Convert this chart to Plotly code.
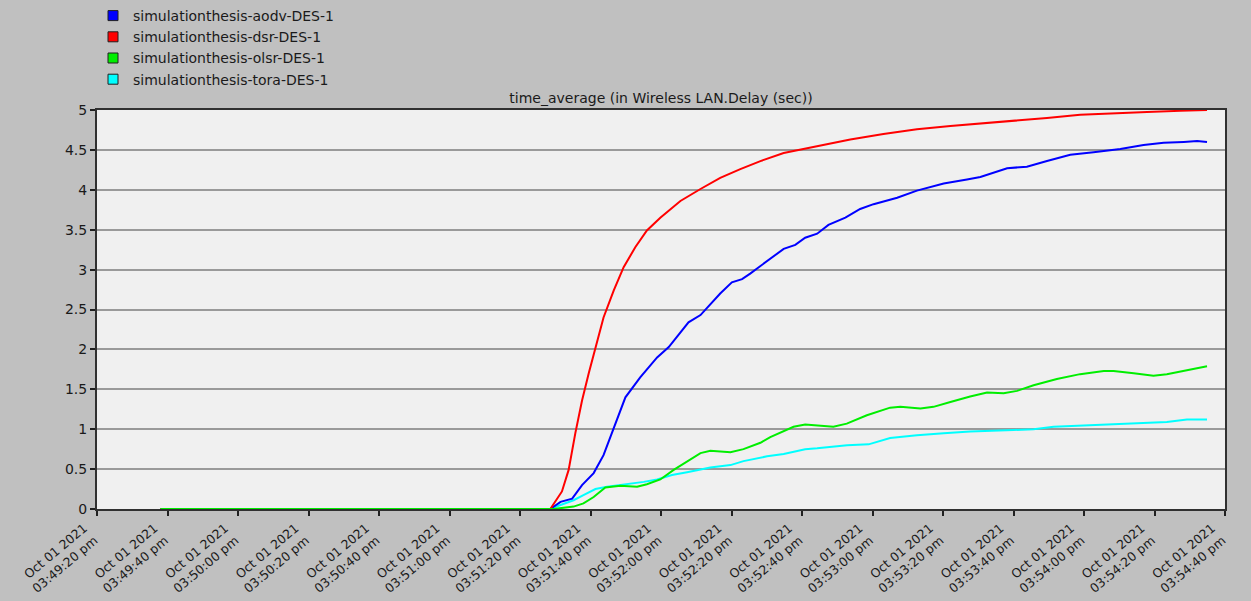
import pandas as pd
import plotly.graph_objects as go

# Elapsed seconds after 03:49:20 pm and the time-averaged delay (sec) of each run
aodv_t = [18, 128.6, 131.5, 134.8, 137.6, 140.9, 143.7, 146.6, 149.9, 154.1,
          158.9, 162.2, 167.8, 171.2, 174.0, 176.8, 180.1, 183.0, 185.3, 190.1,
          194.8, 198.1, 200.9, 204.3, 207.5, 212.3, 216.5, 220.3, 227.0, 232.6,
          240.2, 246.8, 250.6, 258.2, 263.8, 269.5, 276.1, 282.7, 290.3, 296.9,
          302.6, 308.3, 312.1, 314.9]
aodv_v = [0, 0, 0.09, 0.13, 0.30, 0.45, 0.675, 1.01, 1.40, 1.65,
          1.90, 2.03, 2.34, 2.43, 2.57, 2.70, 2.84, 2.88, 2.95, 3.11,
          3.26, 3.31, 3.40, 3.45, 3.56, 3.65, 3.76, 3.82, 3.90, 3.99,
          4.08, 4.13, 4.16, 4.27, 4.29, 4.36, 4.44, 4.47, 4.51, 4.56,
          4.59, 4.60, 4.61, 4.60]

dsr_t = [18, 128.6, 131.9, 133.8, 135.7, 137.6, 139.5, 141.4, 143.7, 146.6,
         149.4, 152.7, 156.0, 159.8, 165.5, 171.2, 176.8, 182.5, 188.2, 194.8,
         204.3, 213.7, 223.1, 232.6, 242.1, 250.6, 259.9, 269.5, 278.9, 288.3,
         297.9, 307.3, 314.9]
dsr_v = [0, 0, 0.22, 0.49, 0.95, 1.36, 1.70, 2.03, 2.40, 2.74,
         3.03, 3.28, 3.49, 3.65, 3.86, 4.01, 4.15, 4.26, 4.36, 4.46,
         4.55, 4.63, 4.70, 4.76, 4.80, 4.83, 4.86, 4.90, 4.94, 4.96,
         4.975, 4.99, 5.0]

olsr_t = [18, 129.5, 135.2, 138.0, 140.9, 144.2, 148.5, 153.2, 156.0, 159.8,
          163.6, 167.4, 171.2, 174.0, 179.7, 183.4, 188.2, 191.0, 197.6, 200.9,
          208.9, 212.7, 218.4, 225.0, 227.9, 233.6, 237.3, 242.1, 247.7, 252.5,
          257.2, 261.0, 265.7, 272.3, 278.9, 285.6, 288.4, 294.1, 299.7, 303.5,
          309.2, 314.9]
olsr_v = [0, 0, 0.03, 0.07, 0.15, 0.27, 0.29, 0.28, 0.31, 0.37,
          0.49, 0.59, 0.70, 0.73, 0.71, 0.75, 0.83, 0.90, 1.03, 1.06,
          1.03, 1.07, 1.175, 1.27, 1.28, 1.26, 1.28, 1.34, 1.41, 1.46,
          1.45, 1.48, 1.55, 1.63, 1.69, 1.73, 1.73, 1.70, 1.67, 1.69,
          1.74, 1.79]

tora_t = [18, 128.6, 131.5, 135.2, 138.0, 141.4, 144.7, 150.4, 155.1, 158.9,
          163.1, 167.4, 174.0, 179.7, 183.4, 190.1, 194.8, 200.9, 204.3, 212.8,
          218.9, 225.0, 232.6, 240.2, 247.7, 260.0, 265.7, 271.4, 281.8, 293.1,
          298.8, 303.5, 309.2, 314.9]
tora_v = [0, 0, 0.05, 0.11, 0.175, 0.25, 0.28, 0.31, 0.34, 0.37,
          0.425, 0.46, 0.52, 0.55, 0.60, 0.66, 0.69, 0.75, 0.76, 0.80,
          0.81, 0.89, 0.925, 0.95, 0.97, 0.99, 1.00, 1.03, 1.05, 1.07,
          1.09, 1.09, 1.12, 1.12]

series_names = ["simulationthesis-aodv-DES-1", "simulationthesis-dsr-DES-1",
                "simulationthesis-olsr-DES-1", "simulationthesis-tora-DES-1"]
series_colors = ["#0000ff", "#ff0000", "#00ee00", "#00ffff"]

start = pd.Timestamp("2021-10-01 15:49:20")
end = pd.Timestamp("2021-10-01 15:54:40")
tick_times = pd.date_range(start, end, freq="20s")
tick_labels = [t.strftime("Oct %d %Y<br>%I:%M:%S ") + t.strftime("%p").lower() for t in tick_times]
y_ticks = [0, 0.5, 1, 1.5, 2, 2.5, 3, 3.5, 4, 4.5, 5]


def to_time(secs):
    return start + pd.to_timedelta(secs, unit="s")


series = {
    "aodv": (aodv_t, aodv_v),
    "dsr": (dsr_t, dsr_v),
    "olsr": (olsr_t, olsr_v),
    "tora": (tora_t, tora_v),
}
keys = ["aodv", "dsr", "olsr", "tora"]

fig = go.Figure()

# Lines: olsr drawn last so it sits on top along the zero baseline
for k in ["tora", "aodv", "dsr", "olsr"]:
    i = keys.index(k)
    t, v = series[k]
    fig.add_trace(go.Scatter(
        x=to_time(t), y=v, mode="lines", name=series_names[i],
        line=dict(color=series_colors[i], width=2), showlegend=False,
    ))

# Square swatches for the legend, in run order
for i, k in enumerate(keys):
    fig.add_trace(go.Scatter(
        x=[None], y=[None], mode="markers", name=series_names[i],
        marker=dict(symbol="square", size=10, color=series_colors[i],
                    line=dict(color="#202020", width=1)),
    ))

font_family = "DejaVu Sans"
fig.update_layout(
    width=1251, height=601,
    paper_bgcolor="#c0c0c0", plot_bgcolor="#f0f0f0",
    margin=dict(l=97, r=26, t=110, b=92, autoexpand=False),
    font=dict(family=font_family, size=14, color="#1a1a1a"),
    title=dict(text="time_average (in Wireless LAN.Delay (sec))",
               x=0.5, xref="paper", xanchor="center",
               y=1 - 98 / 601, yref="container", yanchor="middle",
               font=dict(family=font_family, size=14, color="#1a1a1a")),
    legend=dict(x=93 / 1251, xref="container", xanchor="left",
                y=1 + 2 / 601, yref="container", yanchor="top",
                bgcolor="rgba(0,0,0,0)", font=dict(size=14, color="#1a1a1a"),
                tracegroupgap=0),
    showlegend=True,
)

fig.update_xaxes(
    type="date", range=[start, end], automargin=False,
    tickmode="array", tickvals=tick_times, ticktext=tick_labels,
    tickangle=-40, ticklabelshift=-13, ticklabelstandoff=0,
    ticks="outside", ticklen=5, tickwidth=1.5, tickcolor="#202020",
    showgrid=False, showline=True, linecolor="#303030", linewidth=2, mirror=True,
    tickfont=dict(size=12.5, color="#1a1a1a"),
)
fig.update_yaxes(
    range=[0, 5], automargin=False, tickmode="array", tickvals=y_ticks,
    ticktext=[f"{v:g}" for v in y_ticks],
    ticks="outside", ticklen=5, tickwidth=1.5, tickcolor="#202020",
    showgrid=True, gridcolor="#9a9a9a", gridwidth=1.5, zeroline=False,
    showline=True, linecolor="#303030", linewidth=2, mirror=True,
    tickfont=dict(size=14, color="#1a1a1a"),
)

fig.write_html("out.html")
